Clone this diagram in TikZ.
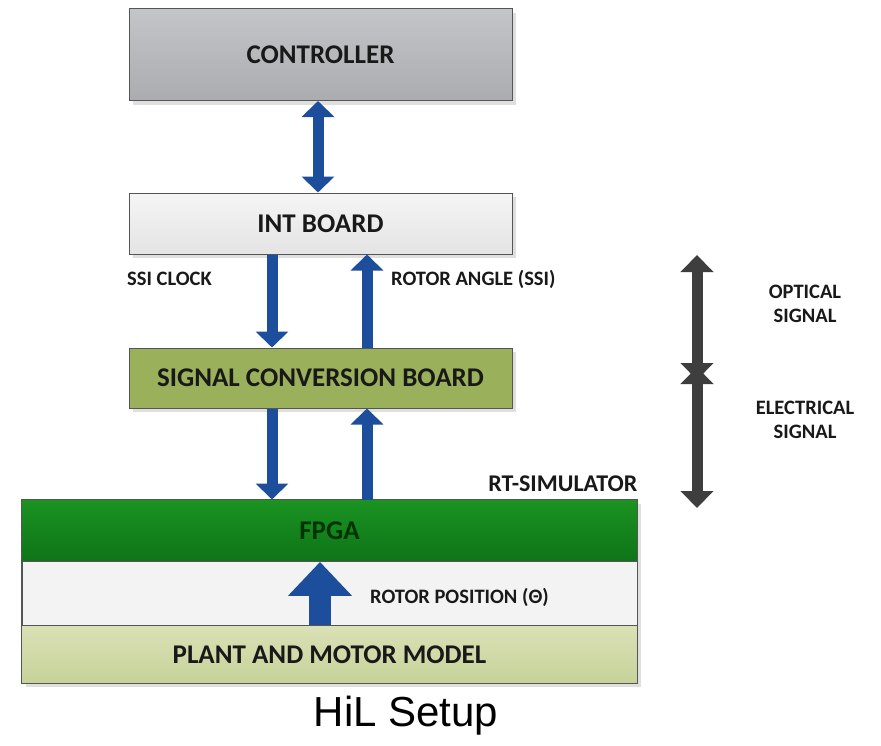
\documentclass[tikz,border=0pt]{standalone}
\usepackage{fontspec}
\setmainfont{Carlito}
\newfontfamily\captionfont{Liberation Sans}
\usetikzlibrary{arrows.meta,shadows}
\definecolor{ctrltop}{HTML}{C4C5C8}
\definecolor{ctrlbot}{HTML}{ABACAF}
\definecolor{inttop}{HTML}{F5F5F5}
\definecolor{intbot}{HTML}{E4E4E4}
\definecolor{scbgreen}{HTML}{9AB05A}
\definecolor{fpgatop}{HTML}{1B9322}
\definecolor{fpgabot}{HTML}{0E7418}
\definecolor{midband}{HTML}{F3F3F3}
\definecolor{planttop}{HTML}{DAE1B6}
\definecolor{plantbot}{HTML}{C7D299}
\definecolor{arrowblue}{HTML}{1C4E9C}
\definecolor{arrowgray}{HTML}{3E3E3E}
\definecolor{edgegray}{HTML}{555555}
\tikzset{
  box/.style={draw=edgegray, line width=1pt, inner sep=0pt, minimum width=383pt,
    font=\fontsize{27}{31}\selectfont\bfseries, text=black!90},
  band/.style={inner sep=0pt, minimum width=615pt,
    font=\fontsize{27}{31}\selectfont\bfseries, text=black!90},
  boxshadow/.style={drop shadow={opacity=0.25, shadow xshift=4pt, shadow yshift=-4pt}},
  lbl/.style={font=\fontsize{20.5}{24}\selectfont\bfseries, text=black!90, inner sep=0pt},
  bluearrow/.style={draw=arrowblue, line width=11pt,
    arrows={-Triangle[width=32pt, length=16pt, fill=arrowblue]}},
  bigarrow/.style={draw=arrowblue, line width=22pt,
    arrows={-Triangle[width=62pt, length=34pt, fill=arrowblue]}},
  grayarrow/.style={draw=arrowgray, line width=11pt,
    arrows={Triangle[width=32pt, length=17pt, fill=arrowgray]-Triangle[width=32pt, length=17pt, fill=arrowgray]}},
}
\begin{document}
\begin{tikzpicture}[x=1pt, y=-1pt]
\useasboundingbox[fill=white] (0,0) rectangle (881,745);
% boxes of the chain
\node[box, boxshadow, top color=ctrltop, bottom color=ctrlbot, minimum height=92pt] (ctrl) at (320.5,54.5) {CONTROLLER};
\node[box, boxshadow, top color=inttop, bottom color=intbot, minimum height=61pt] (int) at (320.5,223.5) {INT BOARD};
\node[box, boxshadow, fill=scbgreen, minimum height=60pt] (scb) at (320.5,378) {SIGNAL CONVERSION BOARD};
% rt-simulator
\node[draw=edgegray, line width=1pt, boxshadow, fill=midband, inner sep=0pt, minimum width=615pt, minimum height=183pt] (rtsim) at (329.5,591.5) {};
\node[band, top color=fpgatop, bottom color=fpgabot, minimum height=62pt, anchor=north, text=black!80!green] (fpga) at (rtsim.north) {FPGA};
\node[band, top color=planttop, bottom color=plantbot, minimum height=58pt, anchor=south] (plant) at (rtsim.south) {PLANT AND MOTOR MODEL};
\draw[edgegray, line width=1pt] (fpga.south west) -- (fpga.south east);
\draw[edgegray, line width=1pt] (plant.north west) -- (plant.north east);
\draw[edgegray, line width=1pt] (rtsim.south west) rectangle (rtsim.north east);
\node[lbl, font=\fontsize{24}{28}\selectfont\bfseries, anchor=south east] (rtlbl) at ([yshift=8pt]rtsim.north east) {RT-SIMULATOR};
% blue connectors
\coordinate (clkx) at (272,0);
\coordinate (angx) at (367,0);
\coordinate (posx) at (320,0);
\draw[bluearrow, arrows={Triangle[width=32pt, length=16pt, fill=arrowblue]-Triangle[width=32pt, length=16pt, fill=arrowblue]}] (ctrl.south -| 318,0) -- (int.north -| 318,0);
\draw[bluearrow] (int.south -| clkx) -- (scb.north -| clkx);
\draw[bluearrow] (scb.north -| angx) -- (int.south -| angx);
\draw[bluearrow] (scb.south -| clkx) -- (fpga.north -| clkx);
\draw[bluearrow] (fpga.north -| angx) -- (scb.south -| angx);
\draw[bigarrow] (plant.north -| posx) -- (fpga.south -| posx);
\node[lbl, anchor=west] (clklbl) at (127,279) {SSI CLOCK};
\node[lbl, anchor=west] (anglbl) at (391,279) {ROTOR ANGLE (SSI)};
\node[lbl, anchor=west] (poslbl) at (370,597) {ROTOR POSITION (Θ)};
% signal types
\coordinate (opttop) at (697,255);
\coordinate (optbot) at (697,380);
\coordinate (eltop) at (697,367);
\coordinate (elbot) at (697,508);
\draw[grayarrow] (opttop) -- (optbot);
\draw[grayarrow] (eltop) -- (elbot);
\node[lbl, align=center] (optlbl) at (805,304) {OPTICAL\\SIGNAL};
\node[lbl, align=center] (ellbl) at (805,420) {ELECTRICAL\\SIGNAL};
\node[font=\captionfont\fontsize{42}{48}\selectfont] (caption) at (406,716) {HiL Setup};
\end{tikzpicture}
\end{document}
